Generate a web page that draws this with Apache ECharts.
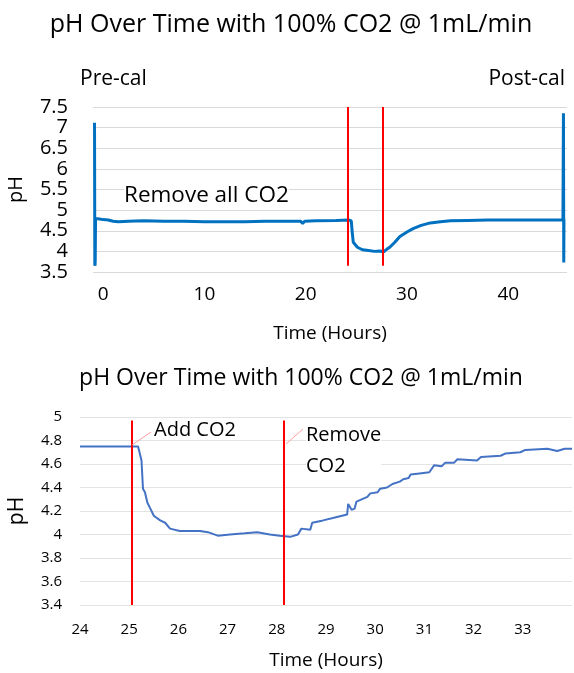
<!DOCTYPE html>
<html>
<head>
<meta charset="utf-8">
<script src="https://cdn.jsdelivr.net/npm/echarts@6/dist/echarts.min.js"></script>
<style>
  html, body { margin: 0; padding: 0; background: #fff; }
  #chart { width: 574px; height: 673px; }
</style>
</head>
<body>
<div id="chart"></div>
<script>
// full run (top chart): time in hours, pH
const fullTime = [-0.85, -0.82, -0.8, -0.78, -0.75, -0.5, 0, 0.5, 1, 1.5, 2.5, 4, 6, 8, 10, 12, 14, 16, 18, 19.5, 19.7, 19.9, 21, 23, 24.3, 24.5, 24.6, 24.7, 25.1, 25.6, 26.2, 26.8, 27.3, 27.7, 28.0, 28.3, 28.8, 29.3, 30.0, 30.6, 31.4, 32.3, 33.3, 34.3, 36, 38, 40, 42, 44, 45.2, 45.4, 45.45, 45.48, 45.5];
const fullPh = [7.12, 3.7, 3.65, 3.8, 4.8, 4.79, 4.77, 4.76, 4.73, 4.72, 4.73, 4.74, 4.73, 4.73, 4.72, 4.72, 4.72, 4.73, 4.73, 4.73, 4.68, 4.73, 4.74, 4.75, 4.76, 4.74, 4.45, 4.22, 4.1, 4.04, 4.02, 4.0, 4.01, 3.99, 4.05, 4.1, 4.22, 4.36, 4.47, 4.55, 4.63, 4.69, 4.72, 4.74, 4.75, 4.76, 4.76, 4.76, 4.76, 4.76, 4.77, 7.35, 3.73, 4.77];
const fullXTicks = [0, 10, 20, 30, 40];
const fullEvents = [24.2, 27.65];

// zoomed window (bottom chart)
const zoomTime = [24.0, 24.5, 25.0, 25.18, 25.25, 25.28, 25.32, 25.37, 25.43, 25.5, 25.63, 25.73, 25.83, 26.03, 26.44, 26.6, 26.8, 27.05, 27.35, 27.6, 27.86, 28.06, 28.27, 28.43, 28.5, 28.68, 28.72, 28.94, 29.14, 29.43, 29.45, 29.52, 29.58, 29.62, 29.84, 29.9, 30.05, 30.1, 30.24, 30.35, 30.5, 30.57, 30.68, 30.72, 30.9, 31.1, 31.2, 31.35, 31.42, 31.6, 31.67, 32.07, 32.15, 32.55, 32.65, 32.95, 33.05, 33.5, 33.7, 33.85, 34.0];
const zoomPh = [4.75, 4.75, 4.75, 4.75, 4.63, 4.39, 4.36, 4.27, 4.22, 4.16, 4.12, 4.1, 4.05, 4.03, 4.03, 4.02, 3.99, 4.0, 4.01, 4.02, 4.0, 3.99, 3.98, 4.0, 4.05, 4.04, 4.1, 4.12, 4.14, 4.17, 4.26, 4.21, 4.22, 4.28, 4.32, 4.35, 4.36, 4.39, 4.4, 4.43, 4.45, 4.47, 4.48, 4.51, 4.52, 4.53, 4.59, 4.58, 4.61, 4.61, 4.64, 4.63, 4.66, 4.67, 4.69, 4.7, 4.72, 4.73, 4.71, 4.73, 4.73];
const zoomEvents = [25.05, 28.14];

const chart = echarts.init(document.getElementById('chart'));
const font = '"Open Sans", sans-serif';
const pairs = (xs, ys) => xs.map((x, i) => [x, ys[i]]);
const eventLines = (xs, top, bottom) => xs.map((x) => [{coord: [x, top]}, {coord: [x, bottom]}]);

const option = {
  animation: false,
  textStyle: {fontFamily: font},
  title: [
    {text: 'pH Over Time with 100% CO2 @ 1mL/min', left: 286, textAlign: 'center', top: 7,
      textStyle: {fontFamily: font, fontSize: 25, fontWeight: 'normal', color: '#000'}},
    {text: 'pH Over Time with 100% CO2 @ 1mL/min', left: 296, textAlign: 'center', top: 362,
      textStyle: {fontFamily: font, fontSize: 23, fontWeight: 'normal', color: '#000'}}
  ],
  grid: [
    {left: 93, right: 7, top: 107, height: 165, outerBoundsMode: 'none'},
    {left: 80, right: 2, top: 417, height: 188, outerBoundsMode: 'none'}
  ],
  xAxis: [
    {
      type: 'value', gridIndex: 0, min: -1, max: 45.8,
      name: 'Time (Hours)', nameLocation: 'middle', nameGap: 52,
      nameTextStyle: {fontSize: 19, color: '#000'},
      axisLine: {show: false}, axisTick: {show: false}, splitLine: {show: false},
      axisLabel: {customValues: fullXTicks, fontSize: 19, color: '#000', margin: 13}
    },
    {
      type: 'value', gridIndex: 1, min: 24, max: 34, interval: 1,
      name: 'Time (Hours)', nameLocation: 'middle', nameGap: 46,
      nameTextStyle: {fontSize: 19, color: '#000'},
      axisLine: {show: false}, axisTick: {show: false}, splitLine: {show: false},
      axisLabel: {fontSize: 15, color: '#000', margin: 17, showMaxLabel: false}
    }
  ],
  yAxis: [
    {
      type: 'value', gridIndex: 0, min: 3.5, max: 7.5, interval: 0.5,
      name: 'pH', nameLocation: 'middle', nameGap: 67, nameRotate: 90,
      nameTextStyle: {fontSize: 20, color: '#000'},
      axisLine: {show: false}, axisTick: {show: false},
      splitLine: {lineStyle: {color: '#d9d9d9', width: 1}},
      axisLabel: {fontSize: 20, color: '#000', margin: 25, lineHeight: 20}
    },
    {
      type: 'value', gridIndex: 1, min: 3.4, max: 5, interval: 0.2,
      name: 'pH', nameLocation: 'middle', nameGap: 52, nameRotate: 90,
      nameTextStyle: {fontSize: 21, color: '#000'},
      axisLine: {show: false}, axisTick: {show: false},
      splitLine: {lineStyle: {color: '#e3e3e3', width: 1}},
      axisLabel: {fontSize: 15, color: '#000', margin: 18}
    }
  ],
  series: [
    {
      type: 'line', xAxisIndex: 0, yAxisIndex: 0, showSymbol: false,
      data: pairs(fullTime, fullPh),
      lineStyle: {color: '#0070C0', width: 3}, itemStyle: {color: '#0070C0'},
      markLine: {
        silent: true, symbol: 'none', label: {show: false},
        lineStyle: {color: '#ff0000', width: 2, type: 'solid'},
        data: eventLines(fullEvents, 7.5, 3.65)
      }
    },
    {
      type: 'line', xAxisIndex: 1, yAxisIndex: 1, showSymbol: false,
      data: pairs(zoomTime, zoomPh),
      lineStyle: {color: '#4472C4', width: 2}, itemStyle: {color: '#4472C4'},
      markLine: {
        silent: true, symbol: 'none', label: {show: false},
        lineStyle: {color: '#ff0000', width: 2, type: 'solid'},
        data: eventLines(zoomEvents, 4.97, 3.4)
      }
    }
  ],
  graphic: [
    {type: 'text', left: 80, top: 69, style: {text: 'Pre-cal', font: '21px ' + font, fill: '#000'}},
    {type: 'text', right: 9, top: 69, style: {text: 'Post-cal', font: '21px ' + font, fill: '#000'}},
    {type: 'text', left: 124, top: 184, z: 10,
      style: {text: 'Remove all CO2', font: '22.5px ' + font, fill: '#000', backgroundColor: '#fff'}},
    {type: 'line', z: 10, shape: {x1: 132, y1: 445, x2: 151, y2: 432}, style: {stroke: '#ff9f9f', lineWidth: 1}},
    {type: 'text', left: 154, top: 420, z: 10,
      style: {text: 'Add CO2', font: '20px ' + font, fill: '#000', backgroundColor: '#fff'}},
    {type: 'line', z: 10, shape: {x1: 286, y1: 444, x2: 303, y2: 429}, style: {stroke: '#ff9f9f', lineWidth: 1}},
    {type: 'text', left: 306, top: 420, z: 10,
      style: {text: 'Remove\nCO2', font: '20px ' + font, lineHeight: 31, fill: '#000', backgroundColor: '#fff'}}
  ]
};
chart.setOption(option);
</script>
</body>
</html>
